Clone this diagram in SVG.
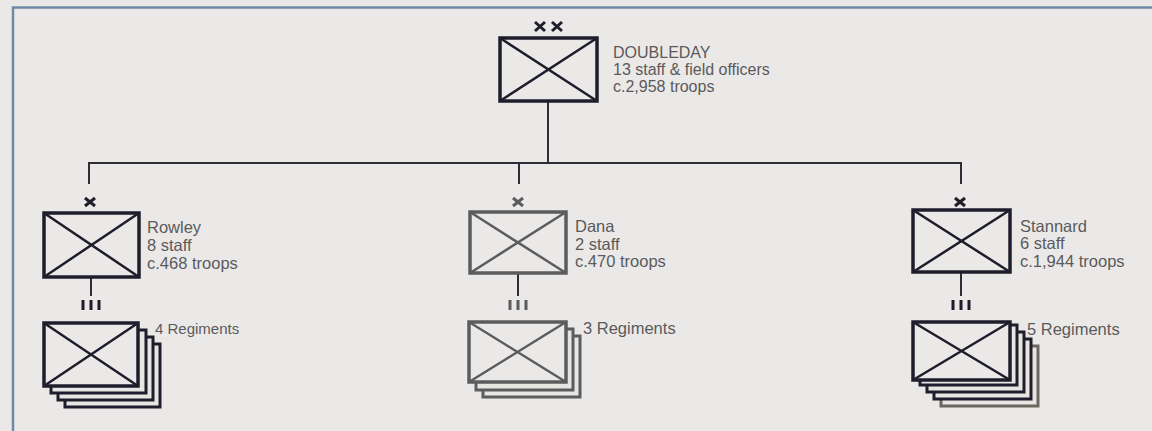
<svg xmlns="http://www.w3.org/2000/svg" width="1152" height="431" viewBox="0 0 1152 431">
<style>
.bg{fill:#ebe9e7}
.frame{fill:none;stroke:#6f89a6;stroke-width:2.5}
.box{fill:#ebe9e7;stroke:#1f1c2b;stroke-width:3.5}
.cross{stroke:#1f1c2b;stroke-width:2.5;fill:none}
.back{fill:#e8e6e3;stroke:#1f1c2b;stroke-width:3}
.gray .box,.gray .back{stroke:#5c5c5e}
.gray .cross,.gray .mark{stroke:#5c5c5e}
.mark{stroke:#1f1c2b;stroke-width:3;fill:none}
.conn{stroke:#2e2c36;stroke-width:2;fill:none}
text{font-family:"Liberation Sans",Arial,sans-serif;font-size:16px;fill:#5a5a5c}
.br{font-size:16.5px}
.reg{font-size:15px}
.reg2{font-size:16.5px}
</style>
<rect class="bg" x="0" y="0" width="1152" height="431"/>
<path class="frame" d="M13,431 V7.5 H1152"/>

<g id="connectors">
<path class="conn" d="M548,101 V163"/>
<path class="conn" d="M89,184 V163 H961 V184"/>
<path class="conn" d="M519,163 V184"/>
<path class="conn" d="M91,277 V296"/>
<path class="conn" d="M518,273 V296"/>
<path class="conn" d="M961,272 V296"/>
</g>

<g id="doubleday">
<path class="mark" d="M535,22 L545,31 M545,22 L535,31 M552,22 L562,31 M562,22 L552,31"/>
<rect class="box" x="500" y="38" width="97" height="63"/>
<path class="cross" d="M500,38 L597,101 M597,38 L500,101"/>
<text x="613" y="58">DOUBLEDAY</text>
<text x="613" y="75">13 staff &amp; field officers</text>
<text x="613" y="92">c.2,958 troops</text>
</g>

<g id="rowley">
<path class="mark" d="M85,198 L95,206 M95,198 L85,206"/>
<rect class="box" x="44" y="213" width="95" height="64"/>
<path class="cross" d="M44,213 L139,277 M139,213 L44,277"/>
<text class="br" x="147" y="233">Rowley</text>
<text class="br" x="147" y="251">8 staff</text>
<text class="br" x="147" y="269">c.468 troops</text>
</g>

<g id="rowley-regiments">
<path class="mark" d="M83,300 V310 M91,300 V310 M99,300 V310"/>
<rect class="back" x="65" y="344" width="95" height="63"/>
<rect class="back" x="58" y="337" width="95" height="63"/>
<rect class="back" x="51" y="330" width="95" height="63"/>
<rect class="box" x="44" y="323" width="94" height="63"/>
<path class="cross" d="M44,323 L138,386 M138,323 L44,386"/>
<text class="reg" x="155" y="334">4 Regiments</text>
</g>

<g id="dana" class="gray">
<path class="mark" d="M513,198 L523,206 M523,198 L513,206"/>
<rect class="box" x="470" y="212" width="96" height="61"/>
<path class="cross" d="M470,212 L566,273 M566,212 L470,273"/>
<text class="br" x="575" y="232">Dana</text>
<text class="br" x="575" y="250">2 staff</text>
<text class="br" x="575" y="267">c.470 troops</text>
</g>

<g id="dana-regiments" class="gray">
<path class="mark" d="M510,300 V310 M518,300 V310 M526,300 V310"/>
<rect class="back" x="483" y="336" width="97" height="61"/>
<rect class="back" x="476" y="329" width="97" height="61"/>
<rect class="box" x="469" y="322" width="97" height="60"/>
<path class="cross" d="M469,322 L566,382 M566,322 L469,382"/>
<text class="reg2" x="583" y="334">3 Regiments</text>
</g>

<g id="stannard">
<path class="mark" d="M955,198 L965,206 M965,198 L955,206"/>
<rect class="box" x="913" y="210" width="97" height="62"/>
<path class="cross" d="M913,210 L1010,272 M1010,210 L913,272"/>
<text class="br" x="1020" y="232">Stannard</text>
<text class="br" x="1020" y="249">6 staff</text>
<text class="br" x="1020" y="267">c.1,944 troops</text>
</g>

<g id="stannard-regiments">
<path class="mark" d="M953,300 V310 M961,300 V310 M969,300 V310"/>
<rect class="back" x="941" y="346" width="97" height="60" style="stroke:#6a6860"/>
<rect class="back" x="934" y="339" width="97" height="60"/>
<rect class="back" x="927" y="332" width="97" height="60"/>
<rect class="back" x="920" y="325" width="97" height="60"/>
<rect class="box" x="913" y="322" width="97" height="58"/>
<path class="cross" d="M913,322 L1010,380 M1010,322 L913,380"/>
<text class="reg2" x="1027" y="335">5 Regiments</text>
</g>
</svg>
